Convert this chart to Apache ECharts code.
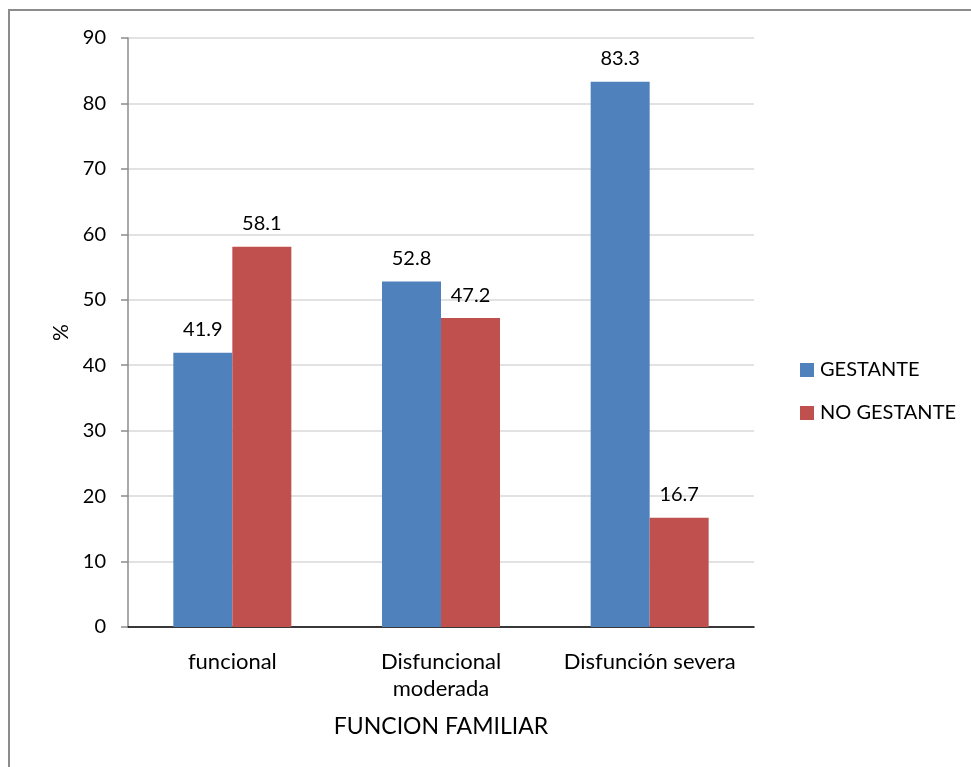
<!DOCTYPE html>
<html>
<head>
<meta charset="utf-8">
<script src="https://cdn.jsdelivr.net/npm/echarts@6/dist/echarts.min.js"></script>
<style>
  html, body { margin: 0; padding: 0; background: #ffffff; }
  #frame {
    position: absolute; left: 8px; top: 9px; width: 980px; height: 780px;
    border-left: 2px solid #8c8c8c; border-top: 2px solid #8c8c8c;
    box-sizing: border-box;
  }
  #chart { position: absolute; left: 0; top: 0; width: 971px; height: 767px; }
</style>
</head>
<body>
<div id="frame"></div>
<div id="chart"></div>
<script>
// Family function categories and percentages per group
const categories = ['funcional', 'Disfuncional\nmoderada', 'Disfunción severa'];
const gestante = [41.9, 52.8, 83.3];
const noGestante = [58.1, 47.2, 16.7];
const seriesNames = ['GESTANTE', 'NO GESTANTE'];
const yTicks = { min: 0, max: 90, interval: 10 };

const FONT = 'Lato, "Open Sans", sans-serif';
const chart = echarts.init(document.getElementById('chart'), null, { renderer: 'canvas' });

const labelStyle = {
  show: true,
  position: 'top',
  distance: 13,
  color: '#000000',
  fontSize: 20,
  fontFamily: FONT,
  formatter: p => p.value.toFixed(1)
};

chart.setOption({
  backgroundColor: 'transparent',
  animation: false,
  grid: { left: 128, right: 217, top: 38, bottom: 140, containLabel: false },
  legend: {
    orient: 'vertical',
    left: 795,
    top: 355,
    itemWidth: 14,
    itemHeight: 14,
    itemGap: 23,
    icon: 'rect',
    textStyle: { fontSize: 20, fontFamily: FONT, color: '#000000', padding: [0, 0, 0, 1] },
    data: seriesNames
  },
  xAxis: {
    type: 'category',
    data: categories,
    name: 'FUNCION FAMILIAR',
    nameLocation: 'middle',
    nameGap: 88,
    nameTextStyle: { fontSize: 23, fontFamily: FONT, color: '#000000' },
    axisLine: { lineStyle: { color: '#000000', width: 1.5 } },
    axisTick: { show: false },
    axisLabel: { fontSize: 22, fontFamily: FONT, color: '#000000', margin: 21, lineHeight: 27, interval: 0 }
  },
  yAxis: {
    type: 'value',
    min: yTicks.min,
    max: yTicks.max,
    interval: yTicks.interval,
    name: '%',
    nameLocation: 'middle',
    nameGap: 56,
    nameRotate: 90,
    nameTextStyle: { fontSize: 21, fontFamily: FONT, color: '#000000' },
    axisLine: { show: true, lineStyle: { color: '#8c8c8c', width: 1.5 } },
    axisTick: { show: true, length: 7, lineStyle: { color: '#8c8c8c', width: 1.5 } },
    axisLabel: { fontSize: 20, fontFamily: FONT, color: '#000000', margin: 22 },
    splitLine: { lineStyle: { color: '#d9d9d9', width: 1.5 } }
  },
  series: [
    {
      name: seriesNames[0],
      type: 'bar',
      data: gestante,
      barWidth: 59,
      barGap: '0%',
      itemStyle: { color: '#4F81BD' },
      label: labelStyle
    },
    {
      name: seriesNames[1],
      type: 'bar',
      data: noGestante,
      barWidth: 59,
      barGap: '0%',
      itemStyle: { color: '#C0504D' },
      label: labelStyle
    }
  ]
});
</script>
</body>
</html>
